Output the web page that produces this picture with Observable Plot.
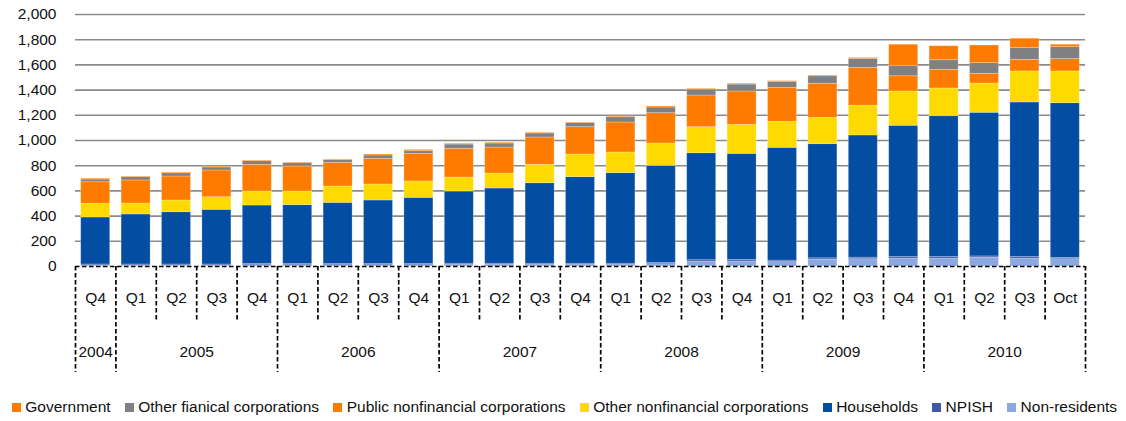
<!DOCTYPE html>
<html><head><meta charset="utf-8">
<script src="https://cdn.jsdelivr.net/npm/d3@7"></script>
<script src="https://cdn.jsdelivr.net/npm/@observablehq/plot@0.6"></script>
<style>
body{margin:0;background:#fff;font-family:"Liberation Sans",Arial,Helvetica,sans-serif;}
#chart{position:relative;width:1126px;height:421px;overflow:hidden;}
#legend{position:absolute;left:12px;top:398px;display:flex;align-items:center;font-size:15.5px;color:#111;line-height:18px;white-space:nowrap;}
.item{display:flex;align-items:center;margin-right:14.3px;}
.sw{width:9px;height:9px;margin-right:4.3px;flex:none;}
</style></head><body><div id="chart"><div id="legend"></div></div>
<script>
// ---- data ----
const quarters = ["Q4","Q1","Q2","Q3","Q4","Q1","Q2","Q3","Q4","Q1","Q2","Q3","Q4","Q1","Q2","Q3","Q4","Q1","Q2","Q3","Q4","Q1","Q2","Q3","Oct"];
const years = ["2004","2005","2006","2007","2008","2009","2010"];
const quartersPerYear = [1,4,4,4,4,4,4];
const yTicks = [0,200,400,600,800,1000,1200,1400,1600,1800,2000];

// legend order (top of stack first)
const seriesNames = ["Government","Other fianical corporations","Public nonfinancial corporations","Other nonfinancial corporations","Households","NPISH","Non-residents"];
const seriesColors = ["#FF7B00","#808080","#FF7B00","#FFDA00","#034EA2","#3F58A8","#8CA8E0"];

const government   = [7,5,6,7,5,5,5,8,10,6,6,5,5,5,8,5,6,5,6,7,170,111,140,75,19];
const otherFin     = [21,26,26,24,29,26,21,26,21,34,32,32,32,42,45,48,55,48,60,72,80,76,85,93,95];
const publicNonfin = [171,183,190,212,212,199,188,204,219,228,206,217,217,238,241,251,265,270,270,300,121,148,77,92,98];
const otherNonfin  = [109,87,93,100,111,108,130,127,130,111,119,146,180,164,177,207,230,206,209,236,272,220,232,246,252];
const households   = [373,397,415,434,464,467,485,504,525,573,597,639,687,719,771,849,842,895,906,970,1042,1118,1140,1227,1228];
const npish        = [8,8,8,8,10,10,10,10,10,10,10,10,10,10,10,12,12,12,10,12,12,12,10,12,10];
const nonResidents = [8,8,8,8,10,10,10,10,10,12,12,12,12,12,18,38,40,35,55,58,63,63,70,63,58];

const seriesValues = [government, otherFin, publicNonfin, otherNonfin, households, npish, nonResidents];

// ---- table ----
const stackOrder = seriesNames.slice().reverse(); // bottom to top
const rows = [];
stackOrder.forEach(name => {
  const vals = seriesValues[seriesNames.indexOf(name)];
  vals.forEach((v, i) => rows.push({i, series: name, value: v}));
});
const yearBounds = [0];
quartersPerYear.forEach(c => yearBounds.push(yearBounds[yearBounds.length-1] + c));
const yearMid = years.map((y, j) => (yearBounds[j] + yearBounds[j+1]) / 2);
const quarterBounds = d3.range(0, quarters.length + 1).filter(b => !yearBounds.includes(b));

// ---- layout ----
const W = 1126, H = 385, mL = 75, mR = 41, mT = 14, mB = 119;
const frameH = H - mT - mB;
const n = quarters.length;
const step = (W - mL - mR) / n;
const inset = step * 0.141;
const font = '"Liberation Sans", Arial, Helvetica, sans-serif';
const dash = {stroke: "#000", strokeWidth: 1.7, strokeDasharray: "4.5,2.5"};

const chart = Plot.plot({
  width: W, height: H,
  marginLeft: mL, marginRight: mR, marginTop: mT, marginBottom: mB,
  style: {fontFamily: font, fontSize: "15.5px", color: "#111", background: "white", overflow: "visible"},
  x: {domain: [0, n], axis: null},
  y: {domain: [0, 2000], axis: null},
  color: {domain: seriesNames, range: seriesColors},
  marks: [
    Plot.ruleY(yTicks.filter(d => d > 0), {stroke: "#8a8a8a", strokeWidth: 1.6}),
    Plot.rectY(rows, {
      x1: "i", x2: d => d.i + 1, y: "value", fill: "series",
      order: stackOrder,
      insetLeft: inset, insetRight: inset,
      stroke: "white", strokeOpacity: 0.3, strokeWidth: 0.8
    }),
    Plot.ruleY([0], dash),
    Plot.ruleX(quarterBounds, {...dash, insetTop: frameH, insetBottom: -55}),
    Plot.ruleX(yearBounds, {...dash, insetTop: frameH, insetBottom: -106}),
    Plot.text(quarters, {x: (d, i) => i + 0.5, y: () => 0, dy: 31.5, text: d => d, fill: "#111"}),
    Plot.text(years, {x: (d, j) => yearMid[j], y: () => 0, dy: 86, text: d => d, fill: "#111"}),
    Plot.axisY({ticks: yTicks, tickFormat: d3.format(","), tickSize: 0, tickPadding: 19, label: null, fill: "#111"})
  ]
});
document.getElementById("chart").prepend(chart);

// ---- legend ----
const legend = document.getElementById("legend");
seriesNames.forEach((name, k) => {
  const item = document.createElement("div");
  item.className = "item";
  const sw = document.createElement("span");
  sw.className = "sw";
  sw.style.background = seriesColors[k];
  const t = document.createElement("span");
  t.textContent = name;
  item.append(sw, t);
  legend.append(item);
});
</script>
</body></html>
